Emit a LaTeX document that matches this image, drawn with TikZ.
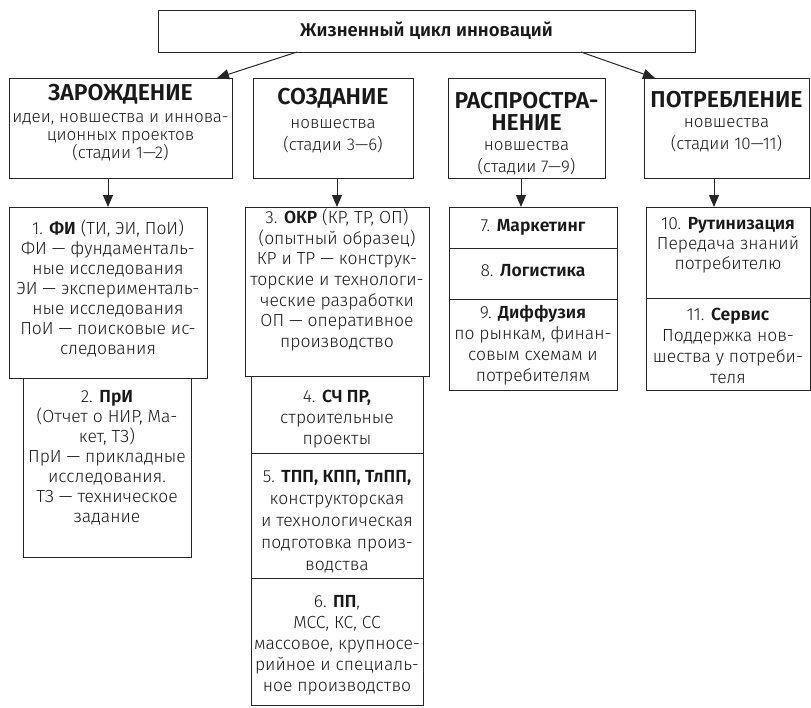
\documentclass[tikz,border=0pt]{standalone}
\usepackage{fontspec}
\setmainfont{Fira Sans}[UprightFont=* Light]
\usetikzlibrary{arrows.meta}
\begin{document}
\begin{tikzpicture}[x=1pt,y=-1pt,
  frame/.style={draw=black!85, line width=1pt, inner sep=0pt, outer sep=0pt, anchor=north west},
  txt/.style={inner sep=0pt, align=center, text=black!90, font=\fontsize{17.5}{#1}\selectfont},
  txt/.default=20,
  sub/.style={inner sep=0pt, align=center, text=black!90, font=\fontsize{17}{#1}\selectfont},
  sub/.default=22,
  ttl/.style={inner sep=0pt, align=center, text=black!90, font=\fontsize{23}{22}\selectfont\bfseries},
  arr/.style={draw=black!85, line width=1pt, -{Triangle[length=12pt,width=10pt]}}]
\useasboundingbox (0,0) rectangle (811,707);

% title box
\node[frame, minimum width=537pt, minimum height=42pt, text=black!90,
      font=\fontsize{18.5}{20}\selectfont\bfseries] (top) at (158,10) {Жизненный цикл инноваций};

% column headers
\node[frame, minimum width=223pt, minimum height=100pt] (h1) at (9,78) {};
\node[ttl] (h1t) at (120.5,94) {ЗАРОЖДЕНИЕ};
\node[sub=17.5] (h1s) at (120.5,137.5) {идеи, новшества и иннова-\\ционных проектов\\(стадии 1—2)};

\node[frame, minimum width=160pt, minimum height=100pt] (h2) at (253,78) {};
\node[ttl] (h2t) at (333,98) {СОЗДАНИЕ};
\node[sub] (h2s) at (333,136.5) {новшества\\(стадии 3—6)};

\node[frame, minimum width=157pt, minimum height=100pt] (h3) at (448,78) {};
\node[ttl] (h3t) at (526.5,111) {РАСПРОСТРА-\\НЕНИЕ};
\node[sub] (h3s) at (526.5,158.5) {новшества\\(стадии 7—9)};

\node[frame, minimum width=165pt, minimum height=100pt] (h4) at (644,78) {};
\node[ttl] (h4t) at (726.5,100) {ПОТРЕБЛЕНИЕ};
\node[sub] (h4s) at (726.5,135) {новшества\\(стадии 10—11)};

% column 1
\node[frame, minimum width=198pt, minimum height=171pt] (b1) at (9,207) {};
\node[txt] (b1t) at (108,288) {1. \textbf{ФИ} (ТИ, ЭИ, ПоИ)\\ФИ — фундаменталь-\\ные исследования\\ЭИ — эксперименталь-\\ные исследования\\ПоИ — поисковые ис-\\следования};
\node[frame, minimum width=168pt, minimum height=179pt] (b2) at (23,378) {};
\node[txt] (b2t) at (107,458) {2. \textbf{ПрИ}\\(Отчет о НИР, Ма-\\кет, ТЗ)\\ПрИ — прикладные\\исследования.\\ТЗ — техническое\\задание};

% column 2
\node[frame, minimum width=184pt, minimum height=169pt] (b3) at (245,207) {};
\node[txt=20.7] (b3t) at (337,280) {3. \textbf{ОКР} (КР, ТР, ОП)\\(опытный образец)\\КР и ТР — конструк-\\торские и технологи-\\ческие разработки\\ОП — оперативное\\производство};
\node[frame, minimum width=172pt, minimum height=77pt] (b4) at (251,376) {};
\node[txt=21] (b4t) at (337,419) {4. \textbf{СЧ ПР,}\\строительные\\проекты};
\node[frame, minimum width=172pt, minimum height=125pt] (b5) at (251,453) {};
\node[txt=22] (b5t) at (337,522) {5. \textbf{ТПП, КПП, ТлПП,}\\конструкторская\\и технологическая\\подготовка произ-\\водства};
\node[frame, minimum width=172pt, minimum height=127pt] (b6) at (251,578) {};
\node[txt=21] (b6t) at (337,645) {6. \textbf{ПП},\\МСС, КС, СС\\массовое, крупносе-\\рийное и специаль-\\ное производство};

% column 3
\node[frame, minimum width=168pt, minimum height=41pt] (b7) at (449,207) {};
\node[txt] (b7t) at (533,227) {7. \textbf{Маркетинг}};
\node[frame, minimum width=168pt, minimum height=51pt] (b8) at (449,248) {};
\node[txt] (b8t) at (533,271) {8. \textbf{Логистика}};
\node[frame, minimum width=168pt, minimum height=91pt] (b9) at (449,299) {};
\node[txt=21] (b9t) at (533,345) {9. \textbf{Диффузия}\\по рынкам, финан-\\совым схемам и\\потребителям};

% column 4
\node[frame, minimum width=164pt, minimum height=91pt] (b10) at (646,207) {};
\node[txt] (b10t) at (728,245) {10. \textbf{Рутинизация}\\Передача знаний\\потребителю};
\node[frame, minimum width=164pt, minimum height=92pt] (b11) at (646,298) {};
\node[txt=21] (b11t) at (728,346) {11. \textbf{Сервис}\\Поддержка нов-\\шества у потреби-\\теля};

% connectors
\draw[arr] ([xshift=139pt]top.south west) -- ([xshift=-15pt]h1.north east);
\draw[arr] ([xshift=423pt]top.south west) -- ([xshift=11pt]h4.north west);
\draw[arr] (b1.north |- h1.south) -- (b1.north);
\draw[arr] (b3.north |- h2.south) -- (b3.north);
\draw[arr] ([xshift=-5.5pt]h3.south) -- ([xshift=-5.5pt]h3.south |- b7.north);
\draw[arr] ([xshift=-12.5pt]h4.south) -- ([xshift=-12.5pt]h4.south |- b10.north);
\end{tikzpicture}
\end{document}
